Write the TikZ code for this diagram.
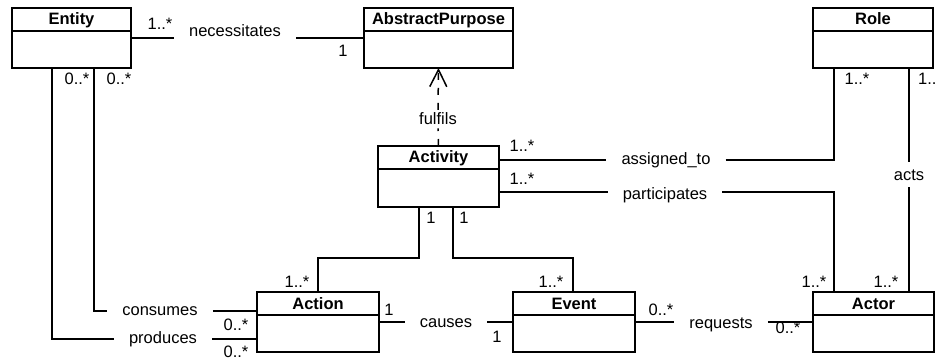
\documentclass[tikz,border=0pt]{standalone}
\usepackage{fontspec}
\setmainfont{Liberation Sans}
\usetikzlibrary{arrows.meta}
\newcommand\basefont{\fontsize{16.5}{19}\selectfont}
\tikzset{
 classbox/.style={draw, line width=1.6pt, inner sep=0pt, outer sep=0pt, anchor=north west},
 ctitle/.style={font=\basefont\bfseries, anchor=base, inner sep=0pt},
 assoc/.style={line width=1.5pt},
 aname/.style={anchor=base, inner xsep=15pt, inner ysep=2pt},
 mult/.style={anchor=base, inner sep=0pt},
 dep/.style={line width=1.5pt, dash pattern=on 7pt off 8pt},
}
\newcommand\umlcls[6]{%
 \node[classbox, minimum width=#4pt, minimum height=#5pt] (#1) at (#2,#3) {};
 \draw[line width=1.6pt] ([yshift=-23pt]#1.north west) -- ([yshift=-23pt]#1.north east);
 \node[ctitle] (#1t) at ([yshift=-17pt]#1.north) {#6};
}
\begin{document}
\begin{tikzpicture}[x=1pt,y=-1pt,font=\basefont]
\useasboundingbox (0,0) rectangle (936,358);
% classes
\umlcls{entity}{12}{8}{119}{60}{Entity}
\umlcls{ap}{364}{8}{149}{60}{AbstractPurpose}
\umlcls{role}{813}{8}{120}{60}{Role}
\umlcls{activity}{378}{146}{121}{61}{Activity}
\umlcls{action}{257}{292}{122}{60}{Action}
\umlcls{event}{513}{292}{122}{60}{Event}
\umlcls{actor}{813}{292}{121}{60}{Actor}
% association names
\node[aname] (nec) at (235,37) {necessitates};
\node[aname, inner ysep=3pt] (ful) at (438,125) {fulfils};
\node[aname] (asg) at (666,165) {assigned\_to};
\node[aname] (par) at (665,199) {participates};
\node[aname, inner ysep=7pt] (acts) at (909,180) {acts};
\node[aname] (cau) at (446,327) {causes};
\node[aname] (req) at (721,328) {requests};
\node[aname] (con) at (160,315) {consumes};
\node[aname] (pro) at (163,343) {produces};
% multiplicities
\node[mult] (m1) at (160,30) {1..*};
\node[mult] (m2) at (343,57) {1};
\node[mult] (m3) at (77,85) {0..*};
\node[mult] (m4) at (119,85) {0..*};
\node[mult] (m5) at (857,85) {1..*};
\node[mult, anchor=base west] (m6) at (918,85) {1..*};
\node[mult] (m7) at (522,152) {1..*};
\node[mult] (m8) at (522,185) {1..*};
\node[mult] (m9) at (431,223) {1};
\node[mult] (m10) at (464,223) {1};
\node[mult] (m11) at (297,287) {1..*};
\node[mult] (m12) at (551,287) {1..*};
\node[mult] (m13) at (814,287) {1..*};
\node[mult] (m14) at (886,287) {1..*};
\node[mult] (m15) at (389,315) {1};
\node[mult] (m16) at (497,342) {1};
\node[mult] (m17) at (661,315) {0..*};
\node[mult] (m18) at (788,333) {0..*};
\node[mult] (m19) at (236,330) {0..*};
\node[mult] (m20) at (236,357) {0..*};
% bend coordinates
\coordinate (cA) at (834,160);
\coordinate (cP) at (834,192);
\coordinate (cR) at (909,0);
\coordinate (k1) at (419,258);
\coordinate (k2) at (318,258);
\coordinate (k3) at (453,258);
\coordinate (k4) at (573,258);
\coordinate (kc) at (94,311);
\coordinate (kp) at (52,339);
% connectors
\draw[assoc] (entity.east) -- (nec.west |- entity.east);
\draw[assoc] (nec.east |- ap.west) -- (ap.west);
\draw[dep] (activity.north) -- (ful.south);
\draw[dep, -{Straight Barb[length=17pt,width=17pt]}] (ful.north) -- (ap.south);
\draw[assoc] (activity.east |- cA) -- (asg.west |- cA);
\draw[assoc] (asg.east |- cA) -- (cA) -- (role.south -| cA);
\draw[assoc] (activity.east |- cP) -- (par.west |- cP);
\draw[assoc] (par.east |- cP) -- (cP) -- (actor.north -| cP);
\draw[assoc] (role.south -| cR) -- (acts.north);
\draw[assoc] (acts.south) -- (actor.north -| cR);
\draw[assoc] (activity.south -| k1) -- (k1) -- (k2) -- (action.north -| k2);
\draw[assoc] (activity.south -| k3) -- (k3) -- (k4) -- (event.north -| k4);
\draw[assoc] (action.east) -- (cau.west |- action.east);
\draw[assoc] (cau.east |- event.west) -- (event.west);
\draw[assoc] (event.east) -- (req.west |- event.east);
\draw[assoc] (req.east |- actor.west) -- (actor.west);
\draw[assoc] (entity.south -| kc) -- (kc) -- (con.west |- kc);
\draw[assoc] (con.east |- kc) -- (action.west |- kc);
\draw[assoc] (entity.south -| kp) -- (kp) -- (pro.west |- kp);
\draw[assoc] (pro.east |- kp) -- (action.west |- kp);
\end{tikzpicture}
\end{document}
